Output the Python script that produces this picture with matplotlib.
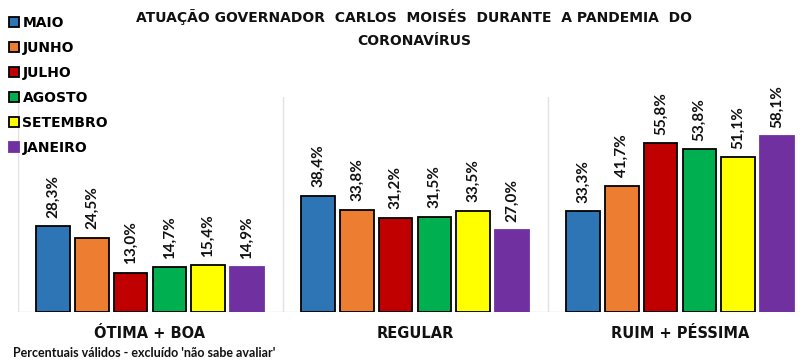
import numpy as np
import matplotlib
matplotlib.use('Agg')
import matplotlib.pyplot as plt
from matplotlib.patches import Patch

# dados (percentuais válidos)
categorias = ['ÓTIMA + BOA', 'REGULAR', 'RUIM + PÉSSIMA']
meses = ['MAIO', 'JUNHO', 'JULHO', 'AGOSTO', 'SETEMBRO', 'JANEIRO']
maio = [28.3, 38.4, 33.3]
junho = [24.5, 33.8, 41.7]
julho = [13.0, 31.2, 55.8]
agosto = [14.7, 31.5, 53.8]
setembro = [15.4, 33.5, 51.1]
janeiro = [14.9, 27.0, 58.1]

series = [maio, junho, julho, agosto, setembro, janeiro]
cores = ['#2E75B6', '#ED7D31', '#C00000', '#00B050', '#FFFF00', '#7030A0']

fig = plt.figure(figsize=(8, 3.63), dpi=100)
ax = fig.add_axes([17.5 / 800, 51 / 363, 795 / 800, 215 / 363])

x = np.arange(len(categorias))
passo = 0.146
largura = 0.127
for i, (valores, cor) in enumerate(zip(series, cores)):
    pos = x + (i - 2.5) * passo
    borda = 'black' if i < 5 else cor
    ax.bar(pos, valores, width=largura, color=cor, edgecolor=borda,
           linewidth=1.3, zorder=3)
    for xb, v in zip(pos, valores):
        ax.annotate(f'{v:.1f}%'.replace('.', ','), (xb, v), xytext=(0, 6),
                    textcoords='offset points', rotation=90, ha='center',
                    va='bottom', fontsize=11, fontweight='bold',
                    family='Lato', color='#111111')

ax.set_xlim(-0.5, 2.5)
ax.set_ylim(0, 71)
for s in ax.spines.values():
    s.set_visible(False)
ax.set_xticks([])
ax.set_yticks([])
ax.axhline(0, color='#d9d9d9', linewidth=1, zorder=1)
for xs in [-0.5, 0.5, 1.5, 2.5]:
    ax.axvline(xs, color='#e2e2e2', linewidth=1, zorder=1)

for xc, cat in zip(x, categorias):
    ax.text(xc, -7, cat, ha='center', va='center', fontsize=10.5,
            fontweight='bold', family='DejaVu Sans', color='#111111')

# titulo
fig.text(414 / 800, 1 - 9 / 363,
         'ATUAÇÃO GOVERNADOR  CARLOS  MOISÉS  DURANTE  A PANDEMIA  DO\nCORONAVÍRUS',
         ha='center', va='top', fontsize=10, fontweight='bold',
         family='DejaVu Sans', linespacing=1.8, color='#111111')

fig.text(13 / 800, 1 - 353 / 363, "Percentuais válidos - excluído 'não sabe avaliar'",
         ha='left', va='center', fontsize=9, fontweight='bold', family='Lato',
         color='#111111')

handles = [Patch(facecolor=c, edgecolor='black' if i < 5 else c, linewidth=1.3)
           for i, c in enumerate(cores)]
fig.legend(handles, meses, loc='upper left', bbox_to_anchor=(3 / 800, 1 - 10 / 363),
           frameon=False, handlelength=0.75, handleheight=0.75,
           handletextpad=0.25, labelspacing=0.8, borderaxespad=0,
           prop={'family': 'DejaVu Sans', 'weight': 'bold', 'size': 10})

fig.savefig('out.png', dpi=100)
